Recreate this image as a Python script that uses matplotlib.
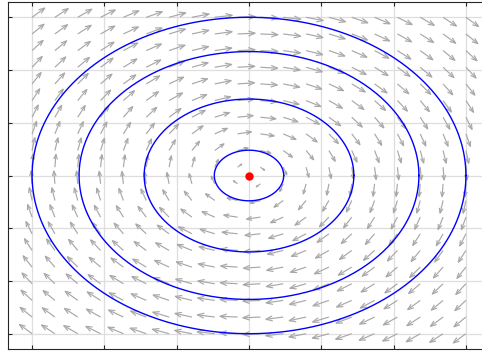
import numpy as np
import matplotlib
matplotlib.use('Agg')
import matplotlib.pyplot as plt
from matplotlib.collections import LineCollection


# grid for the direction field (20 x 20 points from -3 to 3)
grid_pts = np.linspace(-3, 3, 20)

# radii of the closed orbits drawn in blue
orbit_radii = [0.48, 1.45, 2.35, 3.0]

# equilibrium point
eq_x = [0.0]
eq_y = [0.0]

# axis settings
xlims = (-3.34, 3.34)
ylims = (-3.29, 3.29)
ticks = [-3, -2, -1, 0, 1, 2, 3]

arrow_len = 0.25   # longest arrow, in data units
soft = 0.42        # softens the arrow length near the origin


def field(x, y):
    # linear centre: x' = y, y' = -x
    return y, -x


fig = plt.figure(figsize=(4.82, 3.56), dpi=100)
ax = fig.add_axes([7.5 / 482, 7 / 356, 483 / 482, 347 / 356])
ax.set_xlim(xlims)
ax.set_ylim(ylims)

# pixels per data unit, used to draw the arrow heads with the right shape
ax_w = fig.get_figwidth() * fig.dpi * ax.get_position().width
ax_h = fig.get_figheight() * fig.dpi * ax.get_position().height
sx = ax_w / (xlims[1] - xlims[0])
sy = ax_h / (ylims[1] - ylims[0])

X, Y = np.meshgrid(grid_pts, grid_pts)
U, V = field(X, Y)
mag = np.sqrt(U**2 + V**2)
k = arrow_len / np.sqrt(mag**2 + soft)
U = U * k
V = V * k

# quiver-style arrows: shaft plus two open head strokes
alpha, beta = 0.38, 0.38
segs = []
for x0, y0, u, v in zip(X.ravel(), Y.ravel(), U.ravel(), V.ravel()):
    dx, dy = u * sx, v * sy
    tx, ty = x0 + u, y0 + v
    h1 = (tx - alpha * (dx + beta * dy) / sx, ty - alpha * (dy - beta * dx) / sy)
    h2 = (tx - alpha * (dx - beta * dy) / sx, ty - alpha * (dy + beta * dx) / sy)
    segs.append([(x0, y0), (tx, ty)])
    segs.append([h1, (tx, ty), h2])

arrows = LineCollection(segs, colors='#a8a8a8', linewidths=0.85, zorder=2)
ax.add_collection(arrows)

# closed orbits
t = np.linspace(0, 2 * np.pi, 400)
for r in orbit_radii:
    ax.plot(r * np.cos(t), r * np.sin(t), color='blue', linewidth=1.0, zorder=3)

ax.plot(eq_x, eq_y, 'o', color='red', markersize=5, zorder=4)

ax.set_xticks(ticks)
ax.set_yticks(ticks)
ax.grid(True, color='#dedede', linewidth=0.9)
ax.set_axisbelow(True)
ax.tick_params(direction='in', length=3, width=0.8, color='#262626',
               top=True, right=True, labelleft=False, labelbottom=False)
for s in ax.spines.values():
    s.set_color('#262626')
    s.set_linewidth(0.8)

plt.savefig('out.png', dpi=100)
